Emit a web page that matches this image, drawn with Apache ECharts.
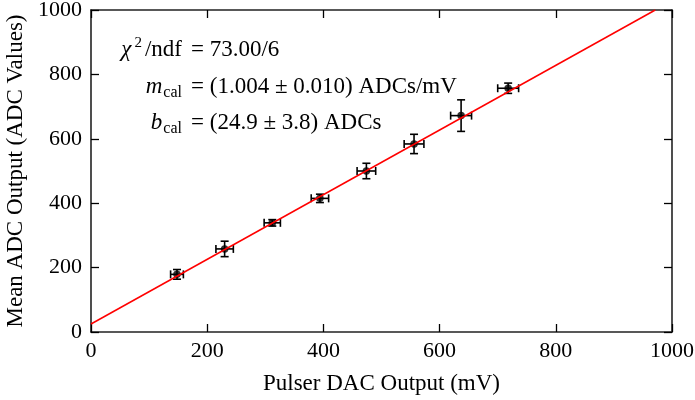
<!DOCTYPE html>
<html><head><meta charset="utf-8">
<script src="https://cdn.jsdelivr.net/npm/echarts@6/dist/echarts.min.js"></script>
<style>html,body{margin:0;padding:0;background:#fff}#c{width:695px;height:400px}</style>
</head><body><div id="c"></div>
<script>
// Data
const dacX   = [148, 230, 312, 394, 474, 556, 637, 718];
const adcY   = [179, 258, 339, 415, 500, 584, 672, 757];
const dacErr = [11, 15, 14, 15, 16, 17, 18, 18];
const adcErr = [15, 24, 10, 13, 24, 30, 49, 16];
const fitSlope = 1.004;
const fitIntercept = 24.9;
const axisMin = 0, axisMax = 1000, axisStep = 200;
const xTitle = 'Pulser DAC Output (mV)';
const yTitle = 'Mean ADC Output (ADC Values)';

const FONT = '"Liberation Serif", "Times New Roman", serif';
const chart = echarts.init(document.getElementById('c'), null, {renderer: 'canvas'});

const points = dacX.map((x, i) => [x, adcY[i], dacErr[i], adcErr[i]]);
const fitLine = [[axisMin, fitIntercept], [(axisMax - fitIntercept) / fitSlope, axisMax]];

function errRender(params, api) {
  const x = api.value(0), y = api.value(1), ex = api.value(2), ey = api.value(3);
  const c = api.coord([x, y]);
  const l = api.coord([x - ex, y]), r = api.coord([x + ex, y]);
  const t = api.coord([x, y + ey]), b = api.coord([x, y - ey]);
  const cap = 4;
  const st = {stroke: '#000', lineWidth: 1.6};
  const seg = (x1, y1, x2, y2) => ({type: 'line', shape: {x1, y1, x2, y2}, style: st});
  return {type: 'group', children: [
    seg(l[0], c[1], r[0], c[1]),
    seg(c[0], t[1], c[0], b[1]),
    seg(l[0], c[1] - cap, l[0], c[1] + cap),
    seg(r[0], c[1] - cap, r[0], c[1] + cap),
    seg(c[0] - cap, t[1], c[0] + cap, t[1]),
    seg(c[0] - cap, b[1], c[0] + cap, b[1])
  ]};
}

const axisCommon = {
  type: 'value', min: axisMin, max: axisMax, interval: axisStep,
  axisLine: {show: true, onZero: false, lineStyle: {color: '#222', width: 1.6}},
  axisTick: {show: true, inside: true, length: 8, lineStyle: {color: '#000', width: 1.3}},
  splitLine: {show: false},
};
const labelCommon = {color: '#000', fontFamily: FONT, fontSize: 22, formatter: v => String(v)};
const nameStyle = {color: '#000', fontFamily: FONT, fontSize: 23};

const FS = 23;
const rich = {
  t: {fontFamily: FONT, fontSize: FS, color: '#000', lineHeight: 28},
  chi: {fontFamily: FONT, fontSize: FS, color: '#000', fontStyle: 'italic', lineHeight: 28, padding: [0, 2, 0, 0]},
  i: {fontFamily: FONT, fontSize: FS, color: '#000', fontStyle: 'italic', lineHeight: 28},
  sup: {fontFamily: FONT, fontSize: 15, color: '#000', lineHeight: 12, verticalAlign: 'top', padding: [0, 3, 0, 1]},
  sub: {fontFamily: FONT, fontSize: 16, color: '#000', lineHeight: 14, verticalAlign: 'bottom', padding: [0, 0, 0, 1]}
};
const eqX = 182;
function lhs(text, y) {
  return {type: 'text', x: eqX, y: y, style: {text: text, rich: rich, align: 'right', verticalAlign: 'middle'}, z: 100};
}
function rhs(text, y) {
  return {type: 'text', x: eqX + 9, y: y, style: {text: text, rich: rich, align: 'left', verticalAlign: 'middle'}, z: 100};
}

chart.setOption({
  animation: false,
  grid: {left: 91, right: 23, top: 10, bottom: 68, containLabel: false, outerBoundsMode: 'none'},
  xAxis: [
    Object.assign({}, axisCommon, {position: 'bottom',
      axisLabel: Object.assign({margin: 8}, labelCommon),
      name: xTitle, nameLocation: 'middle', nameGap: 40, nameTextStyle: nameStyle}),
    Object.assign({}, axisCommon, {position: 'top', axisLabel: {show: false}})
  ],
  yAxis: [
    Object.assign({}, axisCommon, {position: 'left',
      axisLabel: Object.assign({margin: 9}, labelCommon),
      name: yTitle, nameLocation: 'middle', nameGap: 63, nameTextStyle: nameStyle}),
    Object.assign({}, axisCommon, {position: 'right', axisLabel: {show: false}})
  ],
  series: [
    {type: 'custom', renderItem: errRender, data: points, xAxisIndex: 0, yAxisIndex: 0, z: 3, silent: true},
    {type: 'scatter', data: points.map(p => [p[0], p[1]]), symbol: 'circle', symbolSize: 7.5,
     itemStyle: {color: '#000'}, z: 4, silent: true},
    {type: 'line', data: fitLine, showSymbol: false, symbol: 'none', clip: true,
     lineStyle: {color: '#ff0000', width: 1.5}, z: 5, silent: true}
  ],
  graphic: [
    lhs('{chi|χ}{sup|2}{t|/ndf}', 50),
    rhs('{t|= 73.00/6}', 50),
    lhs('{i|m}{sub|cal}', 87),
    rhs('{t|= (1.004 ± 0.010) ADCs/mV}', 87),
    lhs('{i|b}{sub|cal}', 123),
    rhs('{t|= (24.9 ± 3.8) ADCs}', 123)
  ]
});
</script></body></html>
